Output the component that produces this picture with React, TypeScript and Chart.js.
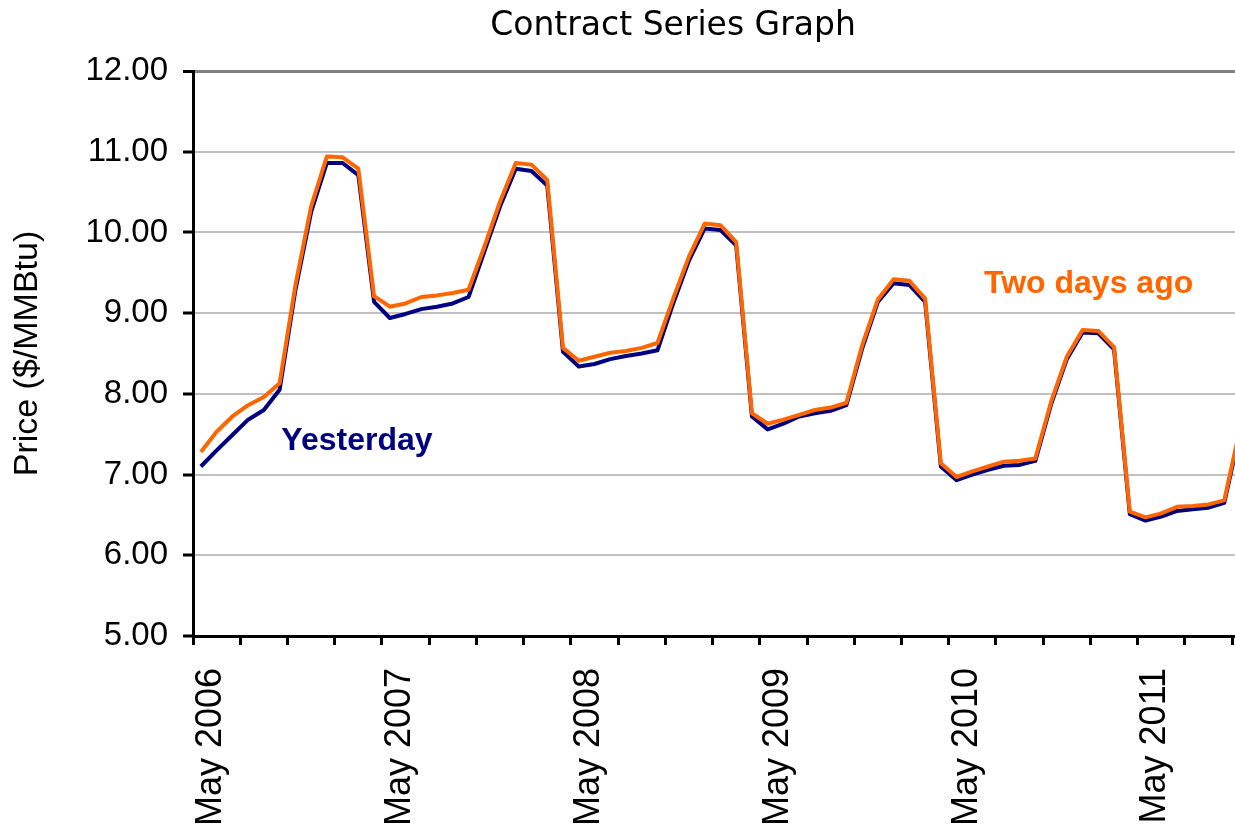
import React, { useEffect, useRef } from 'react';
import { Chart, registerables } from 'chart.js';

Chart.register(...registerables);

// Category labels (one per monthly contract)
const months: string[] = [
  'May 2006', 'Jun 2006', 'Jul 2006', 'Aug 2006', 'Sep 2006', 'Oct 2006', 'Nov 2006', 'Dec 2006',
  'Jan 2007', 'Feb 2007', 'Mar 2007', 'Apr 2007', 'May 2007', 'Jun 2007', 'Jul 2007', 'Aug 2007', 'Sep 2007', 'Oct 2007', 'Nov 2007', 'Dec 2007',
  'Jan 2008', 'Feb 2008', 'Mar 2008', 'Apr 2008', 'May 2008', 'Jun 2008', 'Jul 2008', 'Aug 2008', 'Sep 2008', 'Oct 2008', 'Nov 2008', 'Dec 2008',
  'Jan 2009', 'Feb 2009', 'Mar 2009', 'Apr 2009', 'May 2009', 'Jun 2009', 'Jul 2009', 'Aug 2009', 'Sep 2009', 'Oct 2009', 'Nov 2009', 'Dec 2009',
  'Jan 2010', 'Feb 2010', 'Mar 2010', 'Apr 2010', 'May 2010', 'Jun 2010', 'Jul 2010', 'Aug 2010', 'Sep 2010', 'Oct 2010', 'Nov 2010', 'Dec 2010',
  'Jan 2011', 'Feb 2011', 'Mar 2011', 'Apr 2011', 'May 2011', 'Jun 2011', 'Jul 2011', 'Aug 2011', 'Sep 2011', 'Oct 2011', 'Nov 2011', 'Dec 2011',
  'Jan 2012', 'Feb 2012', 'Mar 2012', 'Apr 2012',
];

// Series values ($/MMBtu)
const twoDaysAgo: number[] = [
  7.28, 7.53, 7.72, 7.86, 7.96, 8.13, 9.34, 10.32,
  10.94, 10.93, 10.79, 9.21, 9.08, 9.12, 9.20, 9.22, 9.25, 9.29, 9.82, 10.38,
  10.86, 10.84, 10.65, 8.57, 8.41, 8.46, 8.51, 8.53, 8.57, 8.63, 9.18, 9.70,
  10.11, 10.09, 9.88, 7.76, 7.63, 7.68, 7.74, 7.80, 7.83, 7.89, 8.60, 9.17,
  9.42, 9.40, 9.18, 7.14, 6.97, 7.04, 7.10, 7.16, 7.17, 7.20, 7.90, 8.46,
  8.79, 8.78, 8.58, 6.54, 6.47, 6.52, 6.60, 6.61, 6.63, 6.68, 7.57,
];

const yesterday: number[] = [
  7.10, 7.30, 7.49, 7.68, 7.80, 8.05, 9.28, 10.25,
  10.86, 10.86, 10.71, 9.14, 8.94, 8.99, 9.05, 9.08, 9.12, 9.20, 9.76, 10.32,
  10.79, 10.76, 10.58, 8.52, 8.34, 8.37, 8.43, 8.47, 8.50, 8.54, 9.12, 9.65,
  10.05, 10.03, 9.84, 7.72, 7.56, 7.63, 7.72, 7.76, 7.79, 7.86, 8.56, 9.14,
  9.37, 9.35, 9.14, 7.10, 6.93, 7.00, 7.06, 7.11, 7.12, 7.17, 7.87, 8.43,
  8.76, 8.75, 8.55, 6.51, 6.43, 6.48, 6.55, 6.57, 6.59, 6.65, 7.53,
];

// Y-axis range
const yMin = 5;
const yMax = 12;

const NAVY = '#000080';
const ORANGE = '#FF6600';

// In-chart series labels, anchored in data space (category index, price)
const seriesLabels = [
  { text: 'Yesterday', index: 5.11, value: 7.3, color: NAVY },
  { text: 'Two days ago', index: 49.74, value: 9.25, color: ORANGE },
];

const labelPlugin = {
  id: 'seriesLabels',
  afterDatasetsDraw(chart: any) {
    const { ctx, scales } = chart;
    ctx.save();
    ctx.font = 'bold 32px "Liberation Sans", Arial, sans-serif';
    ctx.textAlign = 'left';
    ctx.textBaseline = 'alphabetic';
    for (const l of seriesLabels) {
      ctx.fillStyle = l.color;
      ctx.fillText(l.text, scales.x.getPixelForValue(l.index), scales.y.getPixelForValue(l.value));
    }
    ctx.restore();
  },
};

export default function App() {
  const ref = useRef<HTMLCanvasElement>(null);

  useEffect(() => {
    document.body.style.margin = '0';
    Chart.defaults.font.family = '"Liberation Sans", Arial, sans-serif';
    const canvas = ref.current!;
    const chart = new Chart(canvas, {
      type: 'line',
      data: {
        labels: months,
        datasets: [
          {
            label: 'Two days ago',
            data: twoDaysAgo,
            borderColor: ORANGE,
            backgroundColor: ORANGE,
            borderWidth: 4,
            pointRadius: 0,
            tension: 0,
            fill: false,
            borderJoinStyle: 'round',
          },
          {
            label: 'Yesterday',
            data: yesterday,
            borderColor: NAVY,
            backgroundColor: NAVY,
            borderWidth: 4,
            pointRadius: 0,
            tension: 0,
            fill: false,
            borderJoinStyle: 'round',
          },
        ],
      },
      options: {
        animation: false,
        responsive: false,
        devicePixelRatio: 1,
        layout: { padding: 0 },
        plugins: {
          legend: { display: false },
          tooltip: { enabled: false },
          title: {
            display: true,
            text: 'Contract Series Graph',
            color: '#000',
            font: { family: '"DejaVu Sans", sans-serif', size: 33, weight: 'normal' },
            padding: { top: 7, bottom: 24.4 },
          },
        },
        scales: {
          x: {
            type: 'category',
            offset: true,
            grid: {
              offset: true,
              drawOnChartArea: false,
              drawTicks: true,
              tickLength: 9,
              tickWidth: 3,
              tickColor: (c: any) => (c.index % 3 === 0 ? '#000' : 'rgba(0,0,0,0)'),
            },
            border: { display: true, color: '#000', width: 3 },
            ticks: {
              autoSkip: false,
              maxRotation: 90,
              minRotation: 90,
              padding: 23,
              labelOffset: 10,
              color: '#000',
              font: { size: 36 },
              callback: (_v: any, i: number) => (months[i].startsWith('May') ? months[i] : ''),
            },
            afterFit: (s: any) => {
              s.height = 197;
              s.paddingLeft = 0;
              s.paddingRight = 19.4;
            },
          },
          y: {
            min: yMin,
            max: yMax,
            ticks: {
              stepSize: 1,
              padding: 15,
              color: '#000',
              font: { size: 33 },
              callback: (v: any) => Number(v).toFixed(2),
            },
            grid: {
              color: (c: any) => (c.tick && c.tick.value === yMax ? '#808080' : '#C0C0C0'),
              lineWidth: (c: any) => (c.tick && c.tick.value === yMax ? 3 : 2),
              tickColor: '#000',
              tickWidth: 3,
              tickLength: 10,
            },
            border: { display: true, color: '#000', width: 3 },
            title: {
              display: true,
              text: 'Price ($/MMBtu)',
              color: '#000',
              font: { size: 34 },
              padding: { top: 7, bottom: 0 },
            },
            afterFit: (s: any) => {
              s.width = 193;
            },
          },
        },
      },
      plugins: [labelPlugin],
    });
    return () => chart.destroy();
  }, []);

  return (
    <div
      style={{
        position: 'fixed',
        left: 0,
        top: 0,
        width: 1235,
        height: 833,
        overflow: 'hidden',
        background: '#fff',
      }}
    >
      <canvas ref={ref} width={1346} height={833} style={{ display: 'block', width: 1346, height: 833 }} />
    </div>
  );
}
